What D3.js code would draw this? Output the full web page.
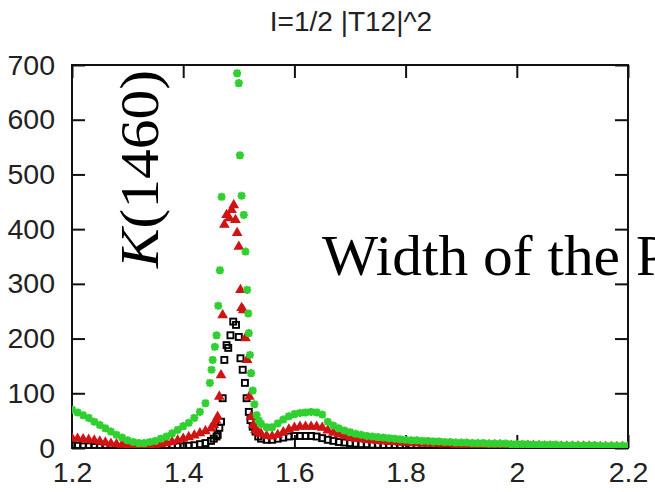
<!DOCTYPE html>
<html>
<head>
<meta charset="utf-8">
<script src="https://cdn.jsdelivr.net/npm/d3@7"></script>
<style>
  html, body { margin: 0; padding: 0; background: #fff; }
  svg { display: block; }
</style>
</head>
<body>
<script>
// Energy grids shared by the three series away from the resonance
const gridLeft = [1.20, 1.21, 1.22, 1.23, 1.24, 1.25, 1.26, 1.27, 1.28, 1.29, 1.30, 1.31, 1.32,
  1.33, 1.34, 1.35, 1.36, 1.37, 1.38, 1.39, 1.40, 1.41, 1.42, 1.43, 1.44];
const gridRight = [1.54, 1.55, 1.56, 1.57, 1.58, 1.59, 1.60, 1.61, 1.62, 1.63, 1.64, 1.65, 1.66,
  1.67, 1.68, 1.69, 1.70, 1.71, 1.72, 1.73, 1.74, 1.75, 1.76, 1.77, 1.78, 1.79, 1.80, 1.81, 1.82,
  1.83, 1.84, 1.85, 1.86, 1.87, 1.88, 1.89, 1.90, 1.91, 1.92, 1.93, 1.94, 1.95, 1.96, 1.97, 1.98,
  1.99, 2.00, 2.01, 2.02, 2.03, 2.04, 2.05, 2.06, 2.07, 2.08, 2.09, 2.10, 2.11, 2.12, 2.13, 2.14,
  2.15, 2.16, 2.17, 2.18, 2.19, 2.20];

// Black series (open squares)
const blackLeft = [5, 4, 3, 3, 2, 2, 2, 1, 1, 1, 1, 1, 1, 1, 1, 1, 1, 2, 2, 3, 3, 4, 5, 7, 9];
const blackPeakX = [1.450, 1.455, 1.460, 1.462, 1.465, 1.468, 1.471, 1.474, 1.478, 1.481, 1.485,
  1.490, 1.495, 1.500, 1.503, 1.507, 1.511, 1.514, 1.518, 1.521, 1.525, 1.530, 1.535];
const blackPeak = [13, 17, 21, 24, 37, 48, 91, 161, 188, 183, 206, 231, 225, 203, 164, 143, 119,
  91, 66, 51, 39, 30, 21];
const blackRight = [17, 15, 15, 17, 19, 21, 22, 22, 22, 22, 21, 18, 15, 13, 11, 10, 9, 8, 7, 7, 6,
  6, 5, 5, 5, 4, 4, 4, 4, 3, 3, 3, 3, 3, 3, 3,
  2, 2, 2, 2, 2, 2, 2, 2, 2, 2, 2, 2, 1, 1, 1, 1, 1, 1, 1, 1, 1, 1, 1, 1, 1, 1, 1, 1, 1, 1, 1];

// Red series (filled triangles)
const redLeft = [18, 17, 16, 15, 14, 12, 10, 8, 7, 6, 5, 4, 4, 4, 5, 6, 7, 9, 11, 14, 17, 20, 23,
  27, 31];
const redPeakX = [1.450, 1.455, 1.459, 1.462, 1.465, 1.468, 1.471, 1.474, 1.478, 1.483, 1.487,
  1.491, 1.494, 1.497, 1.500, 1.503, 1.505, 1.508, 1.512, 1.515, 1.519, 1.522, 1.526, 1.530, 1.535];
const redPeak = [36, 42, 51, 57, 94, 133, 243, 408, 426, 420, 435, 444, 417, 393, 368, 289, 256,
  252, 201, 161, 94, 57, 42, 33, 28];
const redRight = [26, 22, 21, 24, 29, 34, 37, 39, 39, 39, 39, 37, 32, 28, 25, 22, 19, 17, 16, 15,
  14, 13, 12, 11, 11, 10, 10, 9, 9, 8, 8, 8, 7, 7, 7, 6,
  6, 6, 6, 5, 5, 5, 5, 5, 4, 4, 4, 4, 4, 4, 4, 3, 3, 3, 3, 3, 3, 3, 3, 3, 2, 2, 2, 2, 2, 2, 2];

// Green series (stars)
const greenLeft = [70, 65, 60, 55, 48, 42, 36, 30, 24, 19, 14, 11, 9, 9, 11, 13, 17, 21, 27, 33,
  40, 46, 55, 66, 82];
const greenPeakX = [1.448, 1.451, 1.453, 1.457, 1.460, 1.463, 1.466, 1.469, 1.497, 1.500, 1.502,
  1.505, 1.509, 1.512, 1.515, 1.517, 1.518, 1.520, 1.522, 1.525, 1.528, 1.532, 1.536];
const greenPeak = [119, 143, 161, 185, 206, 260, 325, 459, 685, 667, 535, 461, 426, 359, 289, 246,
  210, 170, 137, 105, 80, 60, 50];
const greenRight = [44, 38, 38, 45, 52, 58, 62, 64, 65, 66, 65, 61, 48, 41, 36, 32, 29, 26, 24, 22,
  21, 20, 19, 18, 17, 16, 15, 14, 14, 13, 13, 12, 12, 11, 11, 10,
  10, 10, 9, 9, 9, 8, 8, 8, 8, 7, 7, 7, 7, 6, 6, 6, 6, 6, 5, 5, 5, 5, 5, 5, 5, 4, 4, 4, 4, 4, 4];

// Axis ticks
const xTicks = [1.2, 1.4, 1.6, 1.8, 2, 2.2];
const yTicks = [0, 100, 200, 300, 400, 500, 600, 700];

const W = 655, H = 492;
const margin = { left: 72, right: 27, top: 65, bottom: 44 };

const svg = d3.select("body").append("svg").attr("width", W).attr("height", H);

const x = d3.scaleLinear().domain([1.2, 2.2]).range([margin.left, W - margin.right]);
const y = d3.scaleLinear().domain([0, 700]).range([H - margin.bottom, margin.top]);

svg.append("clipPath").attr("id", "plotClip").append("rect")
  .attr("x", x(1.2)).attr("y", y(700))
  .attr("width", x(2.2) - x(1.2)).attr("height", y(0) - y(700));

function joinSeries(peakX, left, peak, right) {
  const pts = [];
  gridLeft.forEach((gx, i) => pts.push([gx, left[i]]));
  peakX.forEach((px, i) => pts.push([px, peak[i]]));
  gridRight.forEach((gx, i) => pts.push([gx, right[i]]));
  return pts;
}

const blackPts = joinSeries(blackPeakX, blackLeft, blackPeak, blackRight);
const redPts = joinSeries(redPeakX, redLeft, redPeak, redRight);
const greenPts = joinSeries(greenPeakX, greenLeft, greenPeak, greenRight);

const tickFont = "'Liberation Sans', Arial, Helvetica, sans-serif";

// Axes with inward ticks on all four sides
const gx = svg.append("g").attr("transform", `translate(0,${y(0)})`)
  .call(d3.axisBottom(x).tickValues(xTicks).tickSize(-13).tickPadding(14)
    .tickFormat(d3.format("~g")));
const gxt = svg.append("g").attr("transform", `translate(0,${y(700)})`)
  .call(d3.axisTop(x).tickValues(xTicks).tickSize(-13).tickFormat(""));
const gy = svg.append("g").attr("transform", `translate(${x(1.2)},0)`)
  .call(d3.axisLeft(y).tickValues(yTicks).tickSize(-13).tickPadding(17));
const gyr = svg.append("g").attr("transform", `translate(${x(2.2)},0)`)
  .call(d3.axisRight(y).tickValues(yTicks).tickSize(-13).tickFormat(""));

[gx, gxt, gy, gyr].forEach(g => {
  g.select(".domain").remove();
  g.selectAll(".tick line").attr("stroke", "#111").attr("stroke-width", 2);
  g.selectAll(".tick text").attr("fill", "#222").style("font-family", tickFont)
    .style("font-size", "28.5px");
});

// Plot frame
svg.append("rect")
  .attr("x", x(1.2)).attr("y", y(700))
  .attr("width", x(2.2) - x(1.2)).attr("height", y(0) - y(700))
  .attr("fill", "none").attr("stroke", "#111").attr("stroke-width", 2);

const marks = svg.append("g").attr("clip-path", "url(#plotClip)");

// Black open squares
marks.append("g").selectAll("rect").data(blackPts).join("rect")
  .attr("x", d => x(d[0]) - 3).attr("y", d => y(d[1]) - 3)
  .attr("width", 6).attr("height", 6)
  .attr("fill", "none").attr("stroke", "#000").attr("stroke-width", 1.9);

// Red filled triangles
const tri = d3.symbol().type(d3.symbolTriangle).size(30);
marks.append("g").selectAll("path").data(redPts).join("path")
  .attr("transform", d => `translate(${x(d[0])},${y(d[1])})`)
  .attr("d", tri).attr("fill", "#d01414").attr("stroke", "#d01414").attr("stroke-width", 1.4);

// Green stars (plus over cross)
const starPath = "M-4,0H4M0,-4V4M-3,-3L3,3M-3,3L3,-3";
marks.append("g").selectAll("path").data(greenPts).join("path")
  .attr("transform", d => `translate(${x(d[0])},${y(d[1])})`)
  .attr("d", starPath).attr("fill", "none").attr("stroke", "#2fd02f").attr("stroke-width", 2.4);

// Title
svg.append("text")
  .attr("x", (x(1.2) + x(2.2)) / 2 + 1).attr("y", 31)
  .attr("text-anchor", "middle")
  .style("font-family", tickFont).style("font-size", "28px").attr("fill", "#222")
  .text("I=1/2 |T12|^2");

// Annotations in serif type
const serif = "'Liberation Serif', 'DejaVu Serif', 'Times New Roman', serif";
const kLabel = svg.append("text")
  .attr("transform", "translate(158,268) rotate(-90)")
  .attr("textLength", 198).attr("lengthAdjust", "spacingAndGlyphs")
  .style("font-family", serif).style("font-size", "54px").attr("fill", "#000");
kLabel.append("tspan").style("font-style", "italic").text("K");
kLabel.append("tspan").text("(1460)");

const widthLabel = svg.append("text")
  .attr("x", 322).attr("y", 275)
  .style("font-family", serif).style("font-size", "57px").attr("fill", "#000");
widthLabel.append("tspan")
  .attr("textLength", 298).attr("lengthAdjust", "spacingAndGlyphs")
  .text("Width of the");
widthLabel.append("tspan").attr("x", 636).text("Peak");
</script>
</body>
</html>
